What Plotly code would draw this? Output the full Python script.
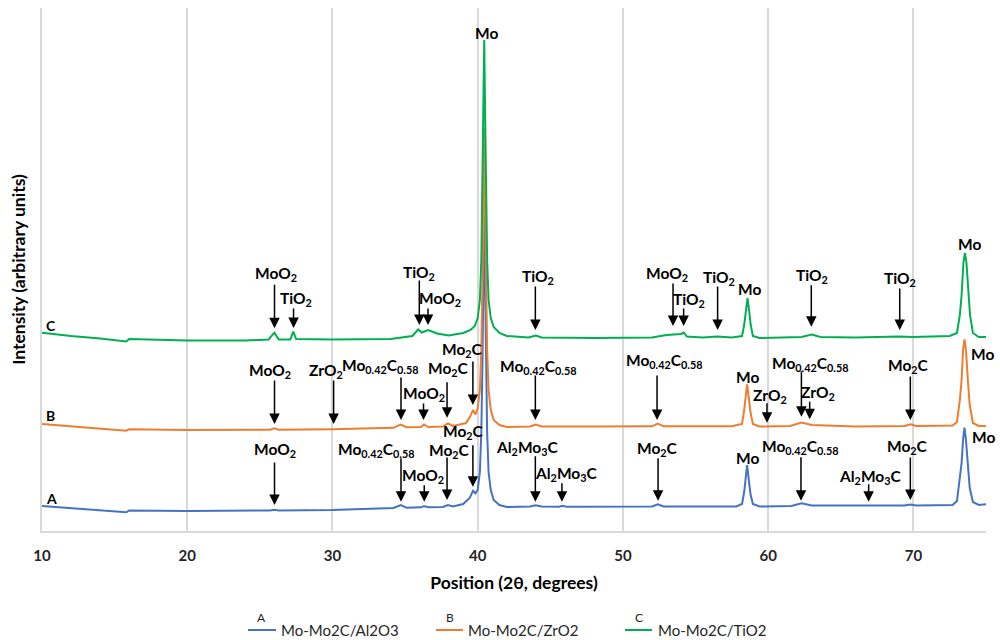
import plotly.graph_objects as go

# ---------------- data (2θ in degrees, intensity in arbitrary units, traces offset) ----------------
two_theta_A = [10.0, 12.0, 14.0, 15.8, 16.0, 20.0, 25.7, 26.0, 26.3, 30.0, 34.2, 34.7, 35.1, 36.1, 36.3,
               36.6, 37.6, 37.95, 38.3, 39.0, 39.45, 39.68, 39.85, 40.0, 40.15, 40.25, 40.33, 40.40,
               40.45, 40.50, 40.57, 40.65, 40.75, 40.9, 41.1, 41.5, 42.0, 43.6, 44.0, 44.4, 45.6,
               45.85, 46.1, 52.0, 52.4, 52.8, 57.8, 58.2, 58.35, 58.45, 58.55, 58.67, 58.78, 58.95,
               59.4, 61.6, 62.3, 63.0, 66.7, 67.0, 69.4, 69.8, 70.2, 72.7, 73.0, 73.2, 73.32, 73.42,
               73.52, 73.62, 73.75, 73.88, 74.1, 74.5, 75.0]
intensity_A = [25, 23, 20.5, 18.7, 20.5, 20, 20.5, 21.3, 20.5, 21, 23, 26, 23.3, 23.7, 25,
               23.7, 24, 26, 24.5, 27, 33, 40.3, 37.7, 41, 59, 99, 169, 259,
               322, 259, 169, 99, 59, 41, 31, 26, 24, 24.5, 25.7, 24.5, 24.3,
               25.2, 24.3, 24.5, 26.7, 24.5, 24.5, 27, 39, 51, 66, 51, 37, 27,
               24.5, 25, 27.7, 25.5, 25, 25.5, 25.5, 26.5, 25.5, 26, 30, 51, 68, 91,
               103.3, 91, 66, 43, 29, 26, 26.7]

two_theta_B = [10.0, 12.0, 14.0, 15.8, 16.0, 20.0, 25.7, 26.0, 26.3, 30.0, 34.2, 34.7, 35.1, 36.1, 36.3,
               36.6, 37.6, 37.95, 38.3, 39.2, 39.5, 39.68, 39.85, 40.0, 40.15, 40.25, 40.33, 40.40,
               40.45, 40.50, 40.57, 40.65, 40.75, 40.9, 41.1, 41.5, 42.0, 43.6, 44.0, 44.4, 48.0,
               52.0, 52.4, 52.8, 57.5, 58.2, 58.35, 58.45, 58.55, 58.67, 58.78, 58.95, 59.4, 61.5,
               62.3, 63.0, 66.0, 69.4, 69.8, 70.2, 72.7, 73.0, 73.2, 73.32, 73.42, 73.52, 73.62,
               73.75, 73.88, 74.1, 74.5, 75.0]
intensity_B = [107, 104.5, 102, 100.3, 101.7, 101, 101.3, 102.7, 101.3, 101.7, 103.2, 106.5, 103.8, 104, 106.5,
               104, 104.5, 107.5, 105, 108, 115, 121, 116.5, 123, 141, 181, 251, 341,
               403, 341, 251, 181, 141, 121, 111, 106, 104, 104.5, 106.5, 104.5, 104.5,
               104.7, 107.5, 104.7, 104.7, 107, 121, 133, 146.7, 133, 119, 107, 104.5, 105,
               108.5, 106, 104.5, 105, 106.7, 105, 105.5, 109, 131, 151, 181, 191.7, 181,
               151, 126, 108, 105, 105]

two_theta_C = [10.0, 12.0, 14.0, 15.8, 16.0, 18.0, 20.0, 24.0, 25.6, 26.0, 26.3, 27.1, 27.3, 27.5, 30.0,
               34.0, 35.5, 35.9, 36.15, 36.6, 37.2, 38.0, 39.0, 39.5, 39.8, 40.0, 40.15, 40.25, 40.33,
               40.40, 40.45, 40.50, 40.57, 40.65, 40.75, 40.9, 41.1, 41.5, 42.0, 43.5, 44.0, 44.4,
               48.0, 52.0, 53.0, 54.0, 54.2, 54.4, 55.5, 56.5, 57.5, 58.2, 58.35, 58.45, 58.58,
               58.7, 58.8, 58.95, 59.4, 62.3, 63.0, 63.6, 66.0, 69.0, 70.0, 72.5, 73.0, 73.2, 73.32,
               73.45, 73.55, 73.65, 73.78, 73.9, 74.1, 74.5, 75.0]
intensity_C = [198.3, 195, 192.5, 189.5, 192, 191.5, 190.5, 190.5, 191.5, 198.3, 191.5, 191.5, 199.3, 192, 191.5,
               192, 195, 201.5, 198.5, 201, 197.5, 195.5, 198, 201, 205, 213, 231, 271, 341,
               431, 491, 431, 341, 271, 231, 213, 204, 198, 195, 193.5, 195.5, 193.5,
               193, 193.5, 196, 197, 198.5, 194.5, 193.5, 194.5, 193.5, 195, 206, 219, 233,
               219, 206, 195, 193, 194, 196.5, 194, 193.5, 194.5, 194, 195, 198, 216, 236,
               269, 278, 269, 236, 216, 198, 194, 194]

series_letters = ["A", "B", "C"]
series_names = ["Mo-Mo2C/Al2O3", "Mo-Mo2C/ZrO2", "Mo-Mo2C/TiO2"]

# identified phases: (phase, 2θ of peak, intensity at arrow tip)
phases_A = [("MoO<sub>2</sub>", 26.01, 26.0), ("Mo<sub>0.42</sub>C<sub>0.58</sub>", 34.72, 29.3),
            ("MoO<sub>2</sub>", 36.32, 29.3), ("Mo<sub>2</sub>C", 37.89, 31.0),
            ("Mo<sub>2</sub>C", 39.67, 44.3), ("Al<sub>2</sub>Mo<sub>3</sub>C", 43.97, 29.3),
            ("Al<sub>2</sub>Mo<sub>3</sub>C", 45.80, 29.3), ("Mo<sub>2</sub>C", 52.42, 30.3),
            ("Mo<sub>0.42</sub>C<sub>0.58</sub>", 62.26, 30.3), ("Al<sub>2</sub>Mo<sub>3</sub>C", 66.92, 29.3),
            ("Mo<sub>2</sub>C", 69.79, 31.0)]
phases_B = [("MoO<sub>2</sub>", 26.01, 107.0), ("ZrO<sub>2</sub>", 30.08, 107.0),
            ("Mo<sub>0.42</sub>C<sub>0.58</sub>", 34.72, 111.0), ("MoO<sub>2</sub>", 36.27, 111.0),
            ("Mo<sub>2</sub>C", 37.89, 113.3), ("Mo<sub>2</sub>C", 39.67, 126.0),
            ("Mo<sub>0.42</sub>C<sub>0.58</sub>", 43.97, 111.0), ("Mo<sub>0.42</sub>C<sub>0.58</sub>", 52.35, 111.0),
            ("ZrO<sub>2</sub>", 59.92, 108.3), ("Mo<sub>0.42</sub>C<sub>0.58</sub>", 62.29, 114.3),
            ("ZrO<sub>2</sub>", 62.86, 111.7), ("Mo<sub>2</sub>C", 69.79, 111.0)]
phases_C = [("MoO<sub>2</sub>", 26.01, 202.7), ("TiO<sub>2</sub>", 27.32, 203.0),
            ("TiO<sub>2</sub>", 35.98, 206.0), ("MoO<sub>2</sub>", 36.58, 206.0),
            ("TiO<sub>2</sub>", 43.97, 201.0), ("MoO<sub>2</sub>", 53.45, 205.0),
            ("TiO<sub>2</sub>", 54.18, 205.0), ("TiO<sub>2</sub>", 56.52, 201.0),
            ("TiO<sub>2</sub>", 62.97, 204.3), ("TiO<sub>2</sub>", 69.06, 201.0)]

# Mo peak labels: (2θ, intensity position of label)
mo_labels_A = [(58.55, 73.3), (74.84, 93.7)]
mo_labels_B = [(58.61, 154.3), (74.77, 177.0)]
mo_labels_C = [(40.59, 497.7), (58.73, 242.3), (73.86, 286.7)]

# ---------------- placement of the arrows / labels (layout, not data) ----------------
# (arrow length in px, label 2θ position, label intensity position)
place_A = [(44, 26.01, 81), (45, 33.02, 81), (18, 36.23, 55), (44, 38.04, 80.3), (43, 39.03, 99.5),
           (47, 43.40, 82.7), (20, 46.10, 57), (44, 52.35, 82), (45, 62.17, 83.7), (19, 67.04, 54.3),
           (44, 69.61, 83.7)]
place_B = [(45, 25.72, 160.3), (45, 29.55, 160.3), (44, 33.25, 165.3), (18, 36.32, 137), (37, 38.0, 162.5),
           (45, 38.92, 181.0), (46, 44.13, 164.3), (46, 52.80, 170.3), (21, 60.10, 135.3),
           (47, 62.91, 167), (19, 63.41, 138.3), (45, 69.68, 165)]
place_C = [(45, 26.11, 257), (21, 27.51, 232), (46, 35.93, 258.3), (18, 37.42, 231.7), (45, 44.13, 253.7),
           (44, 53.04, 257), (19, 54.57, 231), (45, 56.64, 252.7), (43, 63.02, 255.3), (43, 69.10, 251.7)]

colors = ["#4472C4", "#ED7D31", "#00B050"]
FONT = "Lato"

fig = go.Figure()
for xs, ys, name, col in zip([two_theta_A, two_theta_B, two_theta_C],
                             [intensity_A, intensity_B, intensity_C], series_names, colors):
    fig.add_trace(go.Scatter(x=xs, y=ys, mode="lines", name=name, showlegend=False,
                             line=dict(color=col, width=2)))

annotations = []
shapes = []
label_font = dict(family=FONT, size=15.5, color="black", weight="bold")
for phases, places in [(phases_A, place_A), (phases_B, place_B), (phases_C, place_C)]:
    for (txt, pos, tip), (alen, lx, ly) in zip(phases, places):
        annotations.append(dict(x=pos, y=tip, xref="x", yref="y", text="",
                                showarrow=True, arrowhead=2, arrowsize=1.4, arrowwidth=1.5,
                                arrowcolor="black", ax=0, ay=-alen))
        annotations.append(dict(x=lx, y=ly, xref="x", yref="y", text=txt, showarrow=False,
                                font=label_font, xanchor="center", yanchor="middle"))
for lst in [mo_labels_A, mo_labels_B, mo_labels_C]:
    for lx, ly in lst:
        annotations.append(dict(x=lx, y=ly, xref="x", yref="y", text="Mo", showarrow=False,
                                font=label_font, xanchor="center", yanchor="middle"))

# series letters next to traces
for letter, ly in zip(series_letters, [33, 115.3, 205.3]):
    annotations.append(dict(x=10.15, y=ly, xref="x", yref="y", text=letter, showarrow=False,
                            font=dict(family=FONT, size=14, color="black", weight="bold"),
                            xanchor="left", yanchor="middle"))

# legend (drawn below the plot: line sample, letter above it, series name)
legend_line_x = [(0.2182, 0.2479), (0.4174, 0.4460), (0.6176, 0.6462)]
legend_text_x = [0.2511, 0.4492, 0.6504]
LEG_Y = -0.1893
for (x0, x1), tx, letter, name, col in zip(legend_line_x, legend_text_x, series_letters,
                                           series_names, colors):
    shapes.append(dict(type="line", xref="paper", yref="paper", x0=x0, x1=x1, y0=LEG_Y, y1=LEG_Y,
                       line=dict(color=col, width=2)))
    annotations.append(dict(x=(x0 + x1) / 2, y=LEG_Y + 0.023, xref="paper", yref="paper", text=letter,
                            showarrow=False, font=dict(family=FONT, size=12, color="#262626"),
                            xanchor="center", yanchor="middle"))
    annotations.append(dict(x=tx, y=LEG_Y, xref="paper", yref="paper", text=name, showarrow=False,
                            font=dict(family=FONT, size=15, color="#262626"),
                            xanchor="left", yanchor="middle"))

fig.update_layout(
    width=1000, height=640,
    margin=dict(l=42, r=14, t=8, b=109, autoexpand=False),
    paper_bgcolor="white", plot_bgcolor="white",
    font=dict(family=FONT, color="black"),
    showlegend=False,
    annotations=annotations,
    shapes=shapes,
    xaxis=dict(range=[10, 75], tick0=10, dtick=10, showgrid=True, gridcolor="#D9D9D9", gridwidth=1.5,
               showline=True, linecolor="#D9D9D9", linewidth=1.5, zeroline=False, ticks="",
               ticklabelstandoff=10, automargin=False,
               tickfont=dict(family=FONT, size=15, color="#262626", weight="bold"),
               title=dict(text="Position (2θ, degrees)", standoff=14,
                          font=dict(family=FONT, size=17.5, color="black", weight="bold"))),
    yaxis=dict(range=[0, 523], showticklabels=False, showgrid=False, zeroline=False, ticks="",
               showline=True, linecolor="#D9D9D9", linewidth=1.5, automargin=False,
               title=dict(text="Intensity (arbitrary units)", standoff=10,
                          font=dict(family=FONT, size=17.5, color="black", weight="bold"))),
)

fig.write_html("out.html")
